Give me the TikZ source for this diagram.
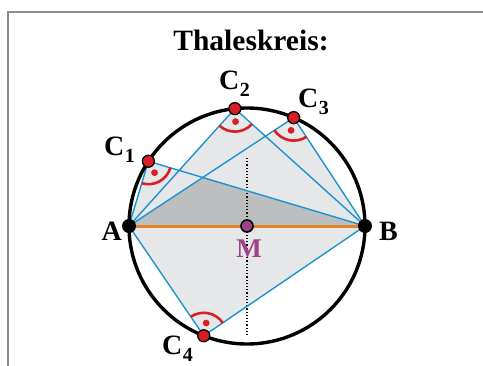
\documentclass[tikz,border=0pt]{standalone}
\usepackage{fontspec}
\setmainfont{Liberation Serif}
\usetikzlibrary{calc}
\definecolor{lgray}{HTML}{E6E7E8}
\definecolor{dgray}{HTML}{BCBEC0}
\definecolor{tblue}{HTML}{1E93CF}
\definecolor{torange}{HTML}{E5832A}
\definecolor{tred}{HTML}{D91E26}
\definecolor{tpurple}{HTML}{A0428A}
\definecolor{framec}{HTML}{8C8C8C}
\newcommand\Csub[1]{C\kern0.5pt\raisebox{-7.5pt}{\fontsize{20}{20}\selectfont #1}}
\tikzset{
  lab/.style={inner sep=0pt, font=\fontsize{28}{30}\selectfont\bfseries},
  chord/.style={draw=tblue, line width=1.4pt},
  rarc/.style={draw=tred, line width=2.6pt},
  bpt/.style={circle, fill=black, inner sep=0pt, minimum size=14pt},
  rpt/.style={circle, fill=tred, draw=black, line width=1.3pt, inner sep=0pt, minimum size=12pt},
  mpt/.style={circle, fill=tpurple, draw=black, line width=1.6pt, inner sep=0pt, minimum size=12pt}
}
\begin{document}
\begin{tikzpicture}[x=1pt,y=1pt]
\useasboundingbox (0,0) rectangle (483,-365);
\draw[framec, line width=1.5pt] (8,-366) -- (8,-12) -- (484,-12);
\coordinate (Mc) at (247,-226);
\coordinate (Ac) at (129,-226);
\coordinate (Bc) at (365,-226);
\coordinate (C1c) at ($(Mc)+(146.7:118)$);
\coordinate (C2c) at ($(Mc)+(95.9:118)$);
\coordinate (C3c) at ($(Mc)+(66.7:118)$);
\coordinate (C4c) at ($(Mc)+(248.5:118)$);
% fills
\fill[lgray] (Ac) -- (C1c) -- (Bc) -- cycle;
\fill[lgray] (Ac) -- (C2c) -- (Bc) -- cycle;
\fill[lgray] (Ac) -- (C3c) -- (Bc) -- cycle;
\fill[lgray] (Ac) -- (C4c) -- (Bc) -- cycle;
\fill[dgray] (Ac) -- (intersection of Ac--C3c and Bc--C1c) -- (Bc) -- cycle;
% dotted axis
\coordinate (T1) at (247,-158);
\coordinate (T2) at (247,-335);
\draw[dotted, line width=1.2pt] (T1) -- (T2);
% chords
\foreach \c in {C1c,C2c,C3c,C4c}{
  \draw[chord] (Ac) -- (\c) -- (Bc);
}
\draw[torange, line width=3pt] (Ac) -- (Bc);
\draw[line width=3.4pt] (Mc) circle[radius=118pt];
% right angle marks
\draw[rarc] ($(C1c)+(-106.65:23pt)$) arc[start angle=-106.65, end angle=-16.65, radius=23pt];
\draw[rarc] ($(C2c)+(-132.05:23pt)$) arc[start angle=-132.05, end angle=-42.05, radius=23pt];
\draw[rarc] ($(C3c)+(-146.65:23pt)$) arc[start angle=-146.65, end angle=-56.65, radius=23pt];
\draw[rarc] ($(C4c)+(34.25:23pt)$) arc[start angle=34.25, end angle=124.25, radius=23pt];
\fill[tred] ($(C1c)+(-61.65:13pt)$) circle[radius=3.4pt];
\fill[tred] ($(C2c)+(-87.05:13pt)$) circle[radius=3.4pt];
\fill[tred] ($(C3c)+(-101.65:13pt)$) circle[radius=3.4pt];
\fill[tred] ($(C4c)+(79.25:13pt)$) circle[radius=3.4pt];
% points
\node[bpt] (A) at (Ac) {};
\node[bpt] (B) at (Bc) {};
\node[mpt] (M) at (Mc) {};
\node[rpt] (C1) at (C1c) {};
\node[rpt] (C2) at (C2c) {};
\node[rpt] (C3) at (C3c) {};
\node[rpt] (C4) at (C4c) {};
% labels
\node[lab, font=\fontsize{29.5}{32}\selectfont\bfseries, anchor=base] (title) at (251,-50) {Thaleskreis:};
\node[lab, anchor=base east] (lA) at (122,-240) {A};
\node[lab, anchor=base west] (lB) at (379,-240) {B};
\node[lab, anchor=base, text=tpurple, font=\fontsize{27}{29}\selectfont\bfseries] (lM) at (249,-257) {M};
\node[lab, anchor=base west] (l1) at (104,-155) {\Csub{1}};
\node[lab, anchor=base west] (l2) at (219,-89) {\Csub{2}};
\node[lab, anchor=base west] (l3) at (298,-107) {\Csub{3}};
\node[lab, anchor=base west] (l4) at (162,-354) {\Csub{4}};
\end{tikzpicture}
\end{document}
